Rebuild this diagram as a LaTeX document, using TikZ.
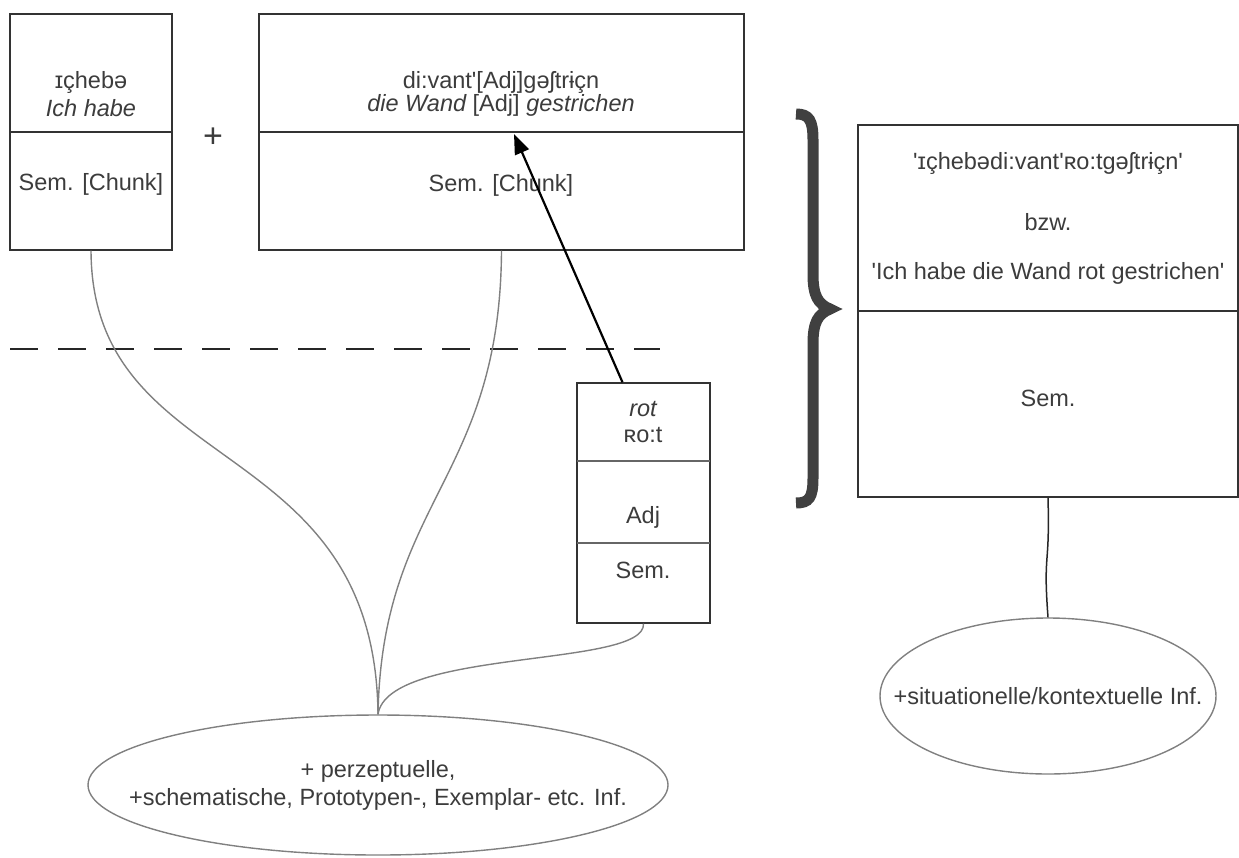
\documentclass[tikz,border=0pt]{standalone}
\usepackage{fontspec}
\setmainfont{Liberation Sans}[Ligatures=TeXOff]
\usetikzlibrary{shapes.geometric,arrows.meta}

\definecolor{txtgray}{HTML}{3C3C3C}
\definecolor{linegray}{HTML}{808080}

\begin{document}
\begin{tikzpicture}[x=1pt,y=-1pt,
	every node/.style={text=txtgray,font=\fontsize{23.5}{27}\selectfont},
	box/.style={draw=black!80,line width=1.4pt,rectangle,inner sep=0pt},
	oval/.style={draw=linegray,line width=1.4pt,ellipse,inner sep=0pt},
	link/.style={draw=linegray,line width=1.4pt},
	arr/.style={line width=2.2pt,-{Triangle[length=20pt,width=15pt]}}]
		
		\useasboundingbox (0,0) rectangle (1239,857);
		
		\node[box,minimum width=162pt,minimum height=236pt] (ich) at (91,132) {};
		\node[box,minimum width=485pt,minimum height=236pt] (wand) at (501.5,132) {};
		\node[box,minimum width=133pt,minimum height=240pt] (rot) at (643.5,503) {};
		\node[box,minimum width=380pt,minimum height=372pt] (satz) at (1048,311) {};
		\node[oval,minimum width=580pt,minimum height=140pt] (perz) at (378,785) {};
		\node[oval,minimum width=336pt,minimum height=156pt] (situ) at (1048,696) {};
		
		\draw[box] (ich.west) -- (ich.east);
		\draw[box] (wand.west) -- (wand.east);
		\draw[box] (satz.west) -- (satz.east);
		\draw[draw=black!60,line width=1.4pt] (577,461) -- (710,461);
		\draw[draw=black!60,line width=1.4pt] (577,543) -- (710,543);
		
		\node (ichipa) at (91,82) {ɪçhebə};
		\node (ichorth) at (91,108) {\itshape Ich habe};
		\node (ichsem) at (91,184) {Sem. [Chunk]};
		
		\node[font=\fontsize{34}{36}\selectfont] (plus) at (213,138) {+};
		
		\node (wandipa) at (501,82) {di:vant'[Adj]gəʃtrɨçn};
		\node (wandorth) at (501,105) {\itshape die Wand \upshape[Adj]\itshape{} gestrichen};
		\node (wandsem) at (501,185) {Sem. [Chunk]};
		
		\node (rotorth) at (643,409) {\itshape rot};
		\node (rotipa) at (643,435) {ʀo:t};
		\node (rotadj) at (643,517) {Adj};
		\node (rotsem) at (643,570) {Sem.};
		
		\node (satzipa) at (1048,163) {'ɪçhebədi:vant'ʀo:tgəʃtrɨçn'};
		\node (bzw) at (1048,222) {bzw.};
		\node (satzorth) at (1048,273) {'Ich habe die Wand rot gestrichen'};
		\node (satzsem) at (1048,398) {Sem.};
		
		\node (perztxt) at (378,771) {+ perzeptuelle,};
		\node (schema) at (378,799) {+schematische, Prototypen-, Exemplar- etc. Inf.};
		\node (situtxt) at (1048,696) {+situationelle/kontextuelle Inf.};
		
		\draw[black!85,line width=1.5pt,dash pattern=on 28pt off 20pt] (10,349) -- (660,349);
		
		\draw[black!75,line width=11pt] (796,114) .. controls (809,114) and (813,120) .. (813,140) -- (813,274) .. controls (813,296) and (818,304) .. (830,309) .. controls (818,314) and (813,322) .. (813,344) -- (813,478) .. controls (813,498) and (809,503) .. (796,503);
		
		\draw[link] (ich.south) .. controls (92,480) and (375,430) .. (perz.north);
		\draw[link] (wand.south) .. controls (500,480) and (382,500) .. (perz.north);
		\draw[link] (rot.south) .. controls (646,668) and (388,648) .. (perz.north);
		\draw[black!85,line width=1.5pt] (satz.south) .. controls (1050,570) and (1043,550) .. (situ.north);
		
		\coordinate (adjslot) at (514,134);
		\draw[arr] ([xshift=-21pt]rot.north) -- (adjslot);
		
\end{tikzpicture}
\end{document}
